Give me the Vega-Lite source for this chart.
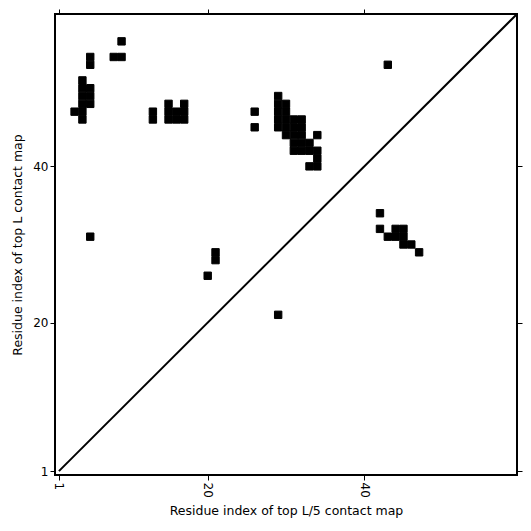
{
  "$schema": "https://vega.github.io/schema/vega-lite/v6.json",
  "width": 462,
  "height": 461,
  "autosize": {"type": "none"},
  "padding": {"left": 55, "top": 14, "right": 14, "bottom": 56},
  "background": "white",
  "config": {
    "font": "DejaVu Sans",
    "view": {"stroke": "black", "strokeWidth": 2},
    "axis": {"grid": false, "domain": false, "tickColor": "black", "tickWidth": 1, "tickSize": 5, "labelColor": "black", "labelFont": "DejaVu Sans", "labelFontSize": 12, "titleFont": "DejaVu Sans", "titleFontSize": 12.5, "titleFontWeight": "normal", "titleColor": "black"}
  },
  "layer": [
    {
      "data": {"values": [
        {"i": 9, "j": 56}, {"i": 8, "j": 54}, {"i": 9, "j": 54}, {"i": 5, "j": 54}, {"i": 5, "j": 53},
        {"i": 4, "j": 51}, {"i": 4, "j": 50}, {"i": 5, "j": 50}, {"i": 4, "j": 49}, {"i": 5, "j": 49},
        {"i": 4, "j": 48}, {"i": 5, "j": 48}, {"i": 3, "j": 47}, {"i": 4, "j": 47}, {"i": 4, "j": 46},
        {"i": 13, "j": 47}, {"i": 13, "j": 46}, {"i": 15, "j": 48}, {"i": 17, "j": 48}, {"i": 15, "j": 47},
        {"i": 16, "j": 47}, {"i": 17, "j": 47}, {"i": 15, "j": 46}, {"i": 16, "j": 46}, {"i": 17, "j": 46},
        {"i": 26, "j": 47}, {"i": 26, "j": 45}, {"i": 29, "j": 49}, {"i": 29, "j": 48}, {"i": 30, "j": 48},
        {"i": 29, "j": 47}, {"i": 30, "j": 47}, {"i": 29, "j": 46}, {"i": 30, "j": 46}, {"i": 31, "j": 46},
        {"i": 32, "j": 46}, {"i": 29, "j": 45}, {"i": 30, "j": 45}, {"i": 31, "j": 45}, {"i": 32, "j": 45},
        {"i": 30, "j": 44}, {"i": 31, "j": 44}, {"i": 32, "j": 44}, {"i": 34, "j": 44}, {"i": 31, "j": 43},
        {"i": 32, "j": 43}, {"i": 33, "j": 43}, {"i": 31, "j": 42}, {"i": 32, "j": 42}, {"i": 33, "j": 42},
        {"i": 34, "j": 42}, {"i": 34, "j": 41}, {"i": 33, "j": 40}, {"i": 34, "j": 40},
        {"i": 43, "j": 53}, {"i": 5, "j": 31}, {"i": 21, "j": 29}, {"i": 21, "j": 28}, {"i": 20, "j": 26},
        {"i": 29, "j": 21}, {"i": 42, "j": 34}, {"i": 42, "j": 32}, {"i": 44, "j": 32}, {"i": 45, "j": 32},
        {"i": 43, "j": 31}, {"i": 44, "j": 31}, {"i": 45, "j": 31}, {"i": 45, "j": 30}, {"i": 46, "j": 30},
        {"i": 47, "j": 29}
      ]},
      "mark": {"type": "rect", "width": 7.4, "height": 7.4, "fill": "#000000", "stroke": "#000000", "strokeWidth": 1, "strokeJoin": "miter", "opacity": 1, "fillOpacity": 1, "strokeOpacity": 1},
      "encoding": {
        "x": {"field": "i", "type": "quantitative", "scale": {"domain": [0.5, 59.5], "nice": false, "zero": false},
              "axis": {"values": [1, 20, 40], "title": "Residue index of top L/5 contact map", "labelAngle": 90, "labelAlign": "left", "labelBaseline": "middle", "titlePadding": 7}},
        "y": {"field": "j", "type": "quantitative", "scale": {"domain": [0.5, 59.5], "nice": false, "zero": false},
              "axis": {"values": [1, 20, 40], "title": "Residue index of top L contact map", "titlePadding": 8}}
      }
    },
    {
      "data": {"values": [{"i": 1, "j": 1}, {"i": 60, "j": 60}]},
      "mark": {"type": "line", "color": "black", "strokeWidth": 2, "clip": true},
      "encoding": {
        "x": {"field": "i", "type": "quantitative", "axis": null},
        "y": {"field": "j", "type": "quantitative", "axis": null}
      }
    },
    {
      "data": {"values": [{"t": 1}, {"t": 20}, {"t": 40}]},
      "mark": {"type": "point", "opacity": 0},
      "encoding": {
        "x": {"field": "t", "type": "quantitative", "axis": {"orient": "top", "values": [1, 20, 40], "labels": false, "title": null}},
        "y": {"field": "t", "type": "quantitative", "axis": {"orient": "right", "values": [1, 20, 40], "labels": false, "title": null}}
      }
    }
  ],
  "resolve": {"axis": {"x": "independent", "y": "independent"}}
}
